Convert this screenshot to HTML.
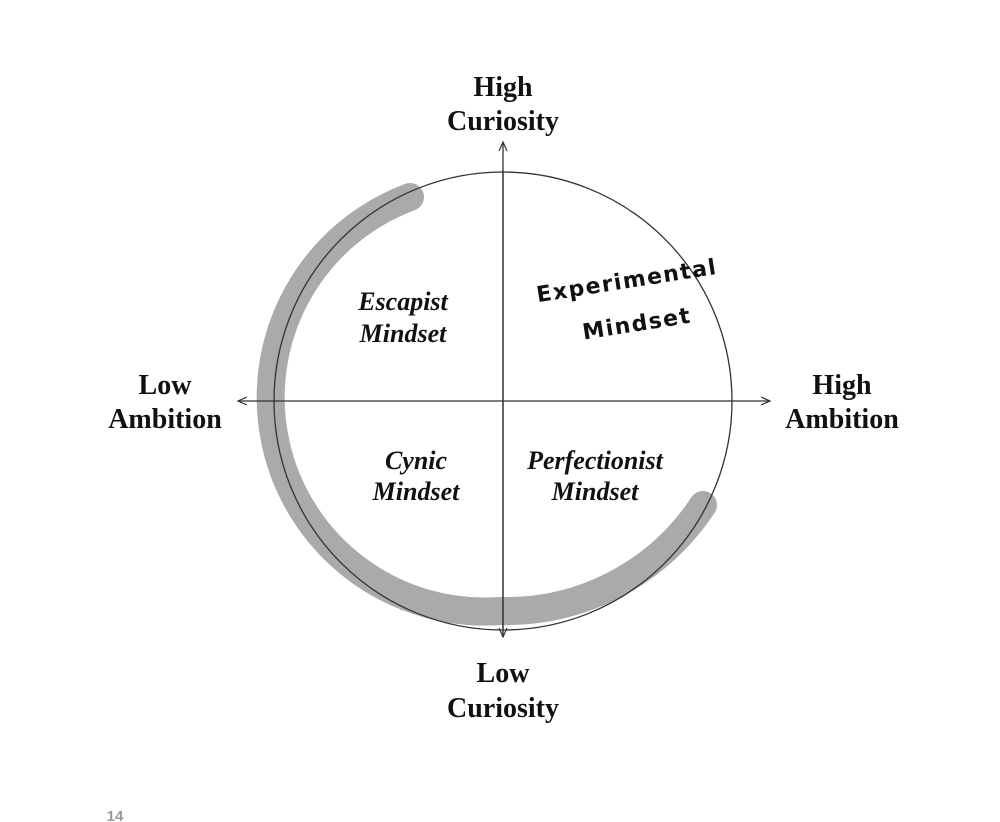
<!DOCTYPE html>
<html><head><meta charset="utf-8"><style>
html,body{margin:0;padding:0;background:#fff;}
body{width:1000px;height:822px;overflow:hidden;position:relative;}
svg{position:absolute;left:0;top:0;}
</style></head><body>
<svg width="1000" height="822" viewBox="0 0 1000 822">
<defs>
<marker id="a" markerWidth="10" markerHeight="10" refX="9" refY="5" orient="auto" markerUnits="userSpaceOnUse">
<path d="M0,1 L9,5 L0,9" fill="none" stroke="#333" stroke-width="1.2"/>
</marker>
</defs>
<path d="M410,197 A214,214 0 0 0 500,611 A235,235 0 0 0 703,505" fill="none" stroke="#aaa" stroke-width="28" stroke-linecap="round"/>
<circle cx="503" cy="401" r="229" fill="none" stroke="#333" stroke-width="1.3"/>
<line x1="503" y1="636" x2="503" y2="142" stroke="#333" stroke-width="1.3" marker-end="url(#a)"/>
<line x1="503" y1="170" x2="503" y2="637" stroke="#333" stroke-width="1.3" marker-end="url(#a)"/>
<line x1="500" y1="401" x2="238" y2="401" stroke="#333" stroke-width="1.3" marker-end="url(#a)"/>
<line x1="500" y1="401" x2="770" y2="401" stroke="#333" stroke-width="1.3" marker-end="url(#a)"/>
<g font-family="Liberation Serif, serif" font-weight="bold" font-size="28" fill="#111" text-anchor="middle">
<text x="503" y="96">High</text><text x="503" y="130">Curiosity</text>
<text x="503" y="682">Low</text><text x="503" y="717">Curiosity</text>
<text x="165" y="394">Low</text><text x="165" y="428">Ambition</text>
<text x="842" y="394">High</text><text x="842" y="428">Ambition</text>
</g>
<g font-family="Liberation Serif, serif" font-weight="bold" font-style="italic" font-size="26" fill="#111" text-anchor="middle">
<text x="403" y="310">Escapist</text><text x="403" y="342">Mindset</text>
<text x="416" y="469">Cynic</text><text x="416" y="500">Mindset</text>
<text x="595" y="469">Perfectionist</text><text x="595" y="500">Mindset</text>
</g>
<g font-family="DejaVu Sans, sans-serif" font-weight="bold" font-size="22" fill="#111" text-anchor="middle" letter-spacing="1.5">
<text x="628" y="288" transform="rotate(-9 628 288)">Experimental</text>
<text x="638" y="331" transform="rotate(-9 638 331)">Mindset</text>
</g>
<text x="115" y="821" font-family="Liberation Sans, sans-serif" font-weight="bold" font-size="15" fill="#999" text-anchor="middle">14</text>
</svg>
</body></html>
